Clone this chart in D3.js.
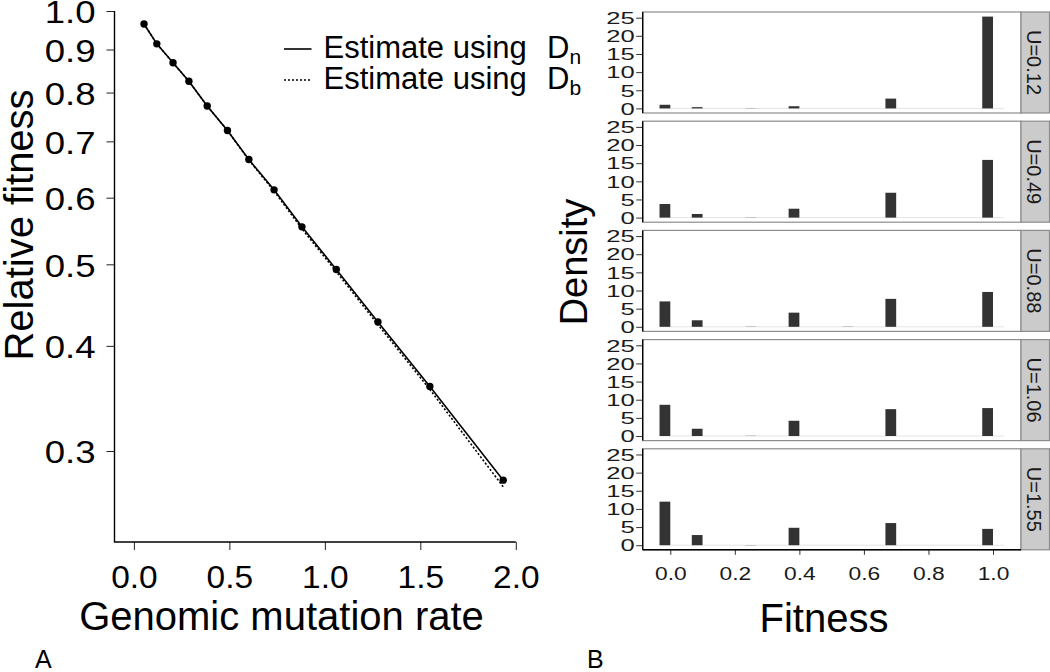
<!DOCTYPE html>
<html>
<head>
<meta charset="utf-8">
<script src="https://cdn.jsdelivr.net/npm/d3@7"></script>
<style>
  body { margin: 0; background: #fff; }
  text { font-family: "Liberation Sans", Arial, sans-serif; }
</style>
</head>
<body>
<div id="chart"></div>
<script>
// Panel A: relative fitness vs genomic mutation rate
var mutationRate = [0.053, 0.12, 0.205, 0.288, 0.384, 0.49, 0.602, 0.734, 0.88, 1.06, 1.278, 1.55, 1.934];
var fitnessDn = [0.965, 0.914, 0.868, 0.825, 0.771, 0.721, 0.666, 0.613, 0.554, 0.493, 0.427, 0.358, 0.277];
var fitnessDb = [0.965, 0.914, 0.868, 0.825, 0.771, 0.721, 0.665, 0.611, 0.551, 0.490, 0.424, 0.355, 0.272];
var rateTicks = [0, 0.5, 1, 1.5, 2];
var fitnessTicks = [1.0, 0.9, 0.8, 0.7, 0.6, 0.5, 0.4, 0.3];

// Panel B: fitness histograms (density) for each U
var binCenters = [-0.0167, 0.0833, 0.25, 0.3833, 0.55, 0.6833, 0.9833];
var densU012 = [1.0, 0.35, 0.05, 0.6, 0, 2.7, 25.3];
var densU049 = [3.75, 1.0, 0.05, 2.45, 0, 6.85, 15.9];
var densU088 = [7.0, 1.8, 0.05, 3.9, 0.05, 7.7, 9.6];
var densU106 = [8.6, 2.0, 0.05, 4.2, 0, 7.4, 7.7];
var densU155 = [12.0, 2.8, 0.05, 4.8, 0, 6.1, 4.5];
var stripLabels = ["U=0.12", "U=0.49", "U=0.88", "U=1.06", "U=1.55"];
var binTicks = [0, 0.2, 0.4, 0.6, 0.8, 1.0];
var densityTicks = [0, 5, 10, 15, 20, 25];
var binWidth = 1 / 30;

var svg = d3.select("#chart")
  .append("svg")
  .attr("width", 1050)
  .attr("height", 672);

// stretch tick labels sideways (the original figure's digits are wide)
function widenLabels(sel, sx) {
  sel.each(function() {
    var t = d3.select(this);
    var x = +t.attr("x") || 0;
    t.attr("x", x / sx).attr("transform", `scale(${sx},1)`);
  });
}

// ---------------- Panel A ----------------
var xRate = d3.scaleLinear().domain([0, 2]).range([133.9, 515.8]);
var yFit = d3.scaleLog().domain([0.3, 1]).range([451, 11]);
var axisBottomY = 542;
var axisLeftX = 114.5;

var gA = svg.append("g");

var xAxisA = gA.append("g")
  .attr("transform", `translate(0, ${axisBottomY})`)
  .call(d3.axisBottom(xRate).tickValues(rateTicks).tickFormat(d3.format(".1f"))
    .tickSize(8).tickPadding(16));
xAxisA.select(".domain").remove();
xAxisA.selectAll("text").attr("font-size", 31).attr("fill", "#000");
widenLabels(xAxisA.selectAll("text"), 1.08);
xAxisA.selectAll("line").attr("stroke", "#222");

var yAxisA = gA.append("g")
  .attr("transform", `translate(${axisLeftX}, 0)`)
  .call(d3.axisLeft(yFit).tickValues(fitnessTicks).tickFormat(d3.format(".1f"))
    .tickSize(8).tickPadding(11));
yAxisA.select(".domain").remove();
yAxisA.selectAll("text").attr("font-size", 31).attr("fill", "#000").attr("dy", "0.38em");
widenLabels(yAxisA.selectAll("text"), 1.18);
yAxisA.selectAll("line").attr("stroke", "#222");

// L-shaped box
gA.append("path")
  .attr("d", `M${axisLeftX},${yFit(1)}V${axisBottomY}H${xRate(2)}`)
  .attr("fill", "none")
  .attr("stroke", "#000")
  .attr("stroke-width", 1.4);

var lineGen = d3.line()
  .x(d => xRate(d[0]))
  .y(d => yFit(d[1]));

var dbPts = mutationRate.map((x, i) => [x, fitnessDb[i]]);
var dnPts = mutationRate.map((x, i) => [x, fitnessDn[i]]);

gA.append("path")
  .attr("d", lineGen(dbPts))
  .attr("fill", "none")
  .attr("stroke", "#000")
  .attr("stroke-width", 1.6)
  .attr("stroke-dasharray", "2,2");

gA.append("path")
  .attr("d", lineGen(dnPts))
  .attr("fill", "none")
  .attr("stroke", "#000")
  .attr("stroke-width", 1.6);

gA.selectAll("circle")
  .data(dnPts)
  .enter()
  .append("circle")
  .attr("cx", d => xRate(d[0]))
  .attr("cy", d => yFit(d[1]))
  .attr("r", 3.7)
  .attr("fill", "#000");

// legend
var legend = gA.append("g");
[["n", null, 49], ["b", "2,2", 80]].forEach(function(item) {
  legend.append("line")
    .attr("x1", 284).attr("x2", 311.5)
    .attr("y1", item[2]).attr("y2", item[2])
    .attr("stroke", "#000")
    .attr("stroke-width", 1.6)
    .attr("stroke-dasharray", item[1]);
  legend.append("text")
    .attr("x", 323.5)
    .attr("y", item[2] + 9)
    .attr("font-size", 31)
    .text("Estimate using");
  var dText = legend.append("text")
    .attr("x", 547)
    .attr("y", item[2] + 9)
    .attr("font-size", 31);
  dText.append("tspan").text("D");
  dText.append("tspan").attr("font-size", 21).attr("dy", 6).text(item[0]);
});

gA.append("text")
  .attr("x", 281.5)
  .attr("y", 630)
  .attr("text-anchor", "middle")
  .attr("font-size", 40)
  .text("Genomic mutation rate");

gA.append("text")
  .attr("transform", "translate(33, 225) rotate(-90)")
  .attr("text-anchor", "middle")
  .attr("font-size", 40)
  .text("Relative fitness");

svg.append("text")
  .attr("x", 35).attr("y", 668)
  .attr("font-size", 25)
  .text("A");

// ---------------- Panel B ----------------
var densSeries = [densU012, densU049, densU088, densU106, densU155];
var panelLeft = 642.7, panelRight = 1021, stripRight = 1049.5;
var panelTop0 = 12, panelStep = 109.2, panelH = 101;
var xFit = d3.scaleLinear().domain([0, 1]).range([670.3, 993]);
var maxDens = d3.max(densSeries, s => d3.max(s));

var gB = svg.append("g");

densSeries.forEach(function(series, i) {
  var top = panelTop0 + i * panelStep;
  var bottom = top + panelH;
  var yDens = d3.scaleLinear()
    .domain([-0.05 * maxDens, 1.05 * maxDens])
    .range([bottom, top]);

  var panel = gB.append("g");

  panel.append("rect")
    .attr("x", panelLeft).attr("y", top)
    .attr("width", panelRight - panelLeft).attr("height", panelH)
    .attr("fill", "#fff")
    .attr("stroke", "#8c8c8c")
    .attr("stroke-width", 1.2);

  // strip
  panel.append("rect")
    .attr("x", panelRight).attr("y", top)
    .attr("width", stripRight - panelRight).attr("height", panelH)
    .attr("fill", "#cbcbcb")
    .attr("stroke", "#8c8c8c")
    .attr("stroke-width", 1.2);
  panel.append("text")
    .attr("transform", `translate(1026.5, ${(top + bottom) / 2}) rotate(90)`)
    .attr("text-anchor", "middle")
    .attr("font-size", 20)
    .attr("fill", "#1a1a1a")
    .text(stripLabels[i]);

  // faint baseline from the empty bins
  panel.append("line")
    .attr("x1", xFit(-binWidth)).attr("x2", xFit(1 + binWidth))
    .attr("y1", yDens(0)).attr("y2", yDens(0))
    .attr("stroke", "#e4e4e4")
    .attr("stroke-width", 1);

  panel.selectAll(".bar")
    .data(series.map((v, j) => [binCenters[j], v]))
    .enter()
    .append("rect")
    .attr("class", "bar")
    .attr("x", d => xFit(d[0] - binWidth / 2))
    .attr("width", xFit(binWidth) - xFit(0))
    .attr("y", d => yDens(d[1]))
    .attr("height", d => yDens(0) - yDens(d[1]))
    .attr("fill", "#333");

  var yAxisB = panel.append("g")
    .attr("transform", `translate(${panelLeft}, 0)`)
    .call(d3.axisLeft(yDens).tickValues(densityTicks).tickSize(6.5).tickPadding(1.5));
  yAxisB.select(".domain").remove();
  yAxisB.selectAll("text").attr("font-size", 16).attr("fill", "#1a1a1a").attr("dy", "0.36em");
  widenLabels(yAxisB.selectAll("text"), 1.6);
  yAxisB.selectAll("line").attr("stroke", "#333");

  panel.append("line")
    .attr("x1", panelLeft).attr("x2", panelLeft)
    .attr("y1", top).attr("y2", bottom)
    .attr("stroke", "#000")
    .attr("stroke-width", 1.4);

  if (i === densSeries.length - 1) {
    var xAxisB = panel.append("g")
      .attr("transform", `translate(0, ${bottom})`)
      .call(d3.axisBottom(xFit).tickValues(binTicks).tickFormat(d3.format(".1f"))
        .tickSize(5).tickPadding(12));
    xAxisB.select(".domain").remove();
    xAxisB.selectAll("text").attr("font-size", 19).attr("fill", "#1a1a1a");
    widenLabels(xAxisB.selectAll("text"), 1.2);
    xAxisB.selectAll("line").attr("stroke", "#333");
    panel.append("line")
      .attr("x1", panelLeft).attr("x2", panelRight)
      .attr("y1", bottom).attr("y2", bottom)
      .attr("stroke", "#000")
      .attr("stroke-width", 1.4);
  }
});

gB.append("text")
  .attr("x", 824)
  .attr("y", 632)
  .attr("text-anchor", "middle")
  .attr("font-size", 40)
  .text("Fitness");

gB.append("text")
  .attr("transform", "translate(587, 262) rotate(-90)")
  .attr("text-anchor", "middle")
  .attr("font-size", 38)
  .text("Density");

svg.append("text")
  .attr("x", 587).attr("y", 668)
  .attr("font-size", 25)
  .text("B");
</script>
</body>
</html>
